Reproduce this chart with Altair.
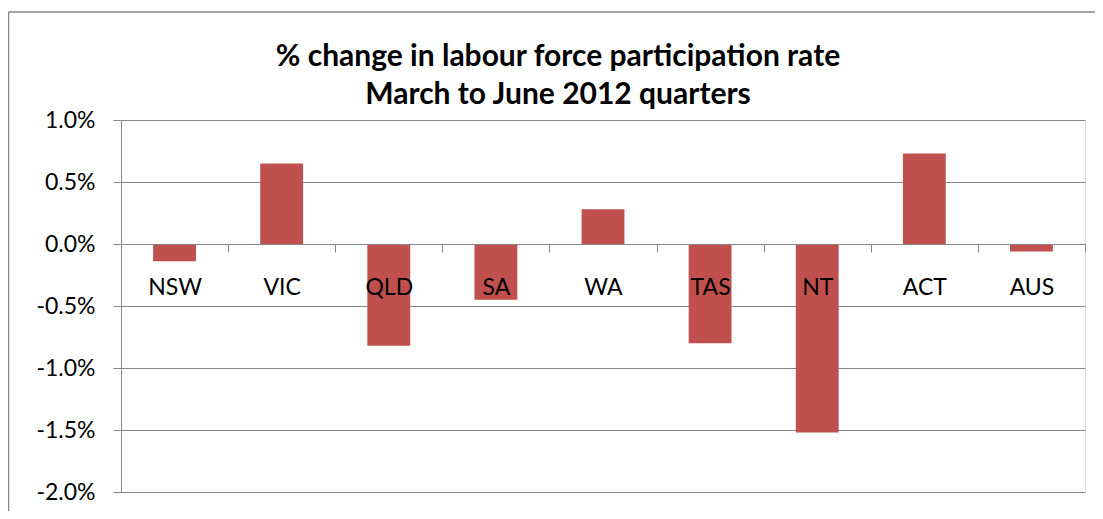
import altair as alt
import pandas as pd

regions = ["NSW", "VIC", "QLD", "SA", "WA", "TAS", "NT", "ACT", "AUS"]
changes = [-0.0014, 0.0065, -0.0082, -0.0045, 0.0028, -0.0080, -0.0152, 0.0073, -0.0006]
y_ticks = [-0.02, -0.015, -0.01, -0.005, 0.0, 0.005, 0.01]
title_lines = ["% change in labour force participation rate", "March to June 2012 quarters"]

W, H = 964, 372
GRAY = "#868686"
FONT = "Lato"

df = pd.DataFrame({"region": regions, "change": changes})

bars = alt.Chart(df).mark_bar(color="#C0504D", width=alt.RelativeBandSize(0.4)).encode(
    x=alt.X(
        "region:N",
        sort=regions,
        scale=alt.Scale(paddingInner=0, paddingOuter=0),
        axis=alt.Axis(
            title=None, orient="bottom", offset=-H * 2 / 3, tickBand="extent",
            labelAngle=0, domainColor=GRAY, domainWidth=1, tickColor=GRAY, tickSize=8,
            tickWidth=1, labelPadding=24, labelFont=FONT, labelFontSize=23,
            labelColor="black", grid=False, zindex=1,
        ),
    ),
    y=alt.Y(
        "change:Q",
        scale=alt.Scale(domain=[-0.02, 0.01], nice=False, zero=False),
        axis=alt.Axis(
            title=None, values=y_ticks,
            labelExpr="(datum.value < 0 ? '-' : '') + format(abs(datum.value), '.1%')",
            domainColor=GRAY, domainWidth=1,
            tickColor=GRAY, tickSize=8, tickWidth=1, gridColor=GRAY, gridWidth=1,
            gridOpacity=1, labelPadding=18, labelFont=FONT, labelFontSize=23,
            labelColor="black",
        ),
    ),
)

frame_src = alt.Chart(pd.DataFrame({"k": [0]}))
frame_top = frame_src.mark_rule(stroke=GRAY, strokeWidth=1.5).encode(
    x=alt.value(-112.5), x2=alt.value(W + 200), y=alt.value(-108)
)
frame_left = frame_src.mark_rule(stroke=GRAY, strokeWidth=1.5).encode(
    x=alt.value(-112.5), y=alt.value(-108), y2=alt.value(H + 100)
)

chart = alt.layer(bars, frame_top, frame_left).properties(
    width=W,
    height=H,
    autosize=alt.AutoSizeParams(type="none"),
    padding={"left": 113, "top": 112, "right": 10, "bottom": 19},
    title=alt.TitleParams(
        title_lines, font=FONT, fontSize=30, fontWeight="bold", color="black",
        anchor="middle", dx=-45, lineHeight=38, offset=-99,
    ),
).configure_view(stroke=None).configure(background="white")

chart.save("out.html", embed_options={"renderer": "svg", "actions": False})
